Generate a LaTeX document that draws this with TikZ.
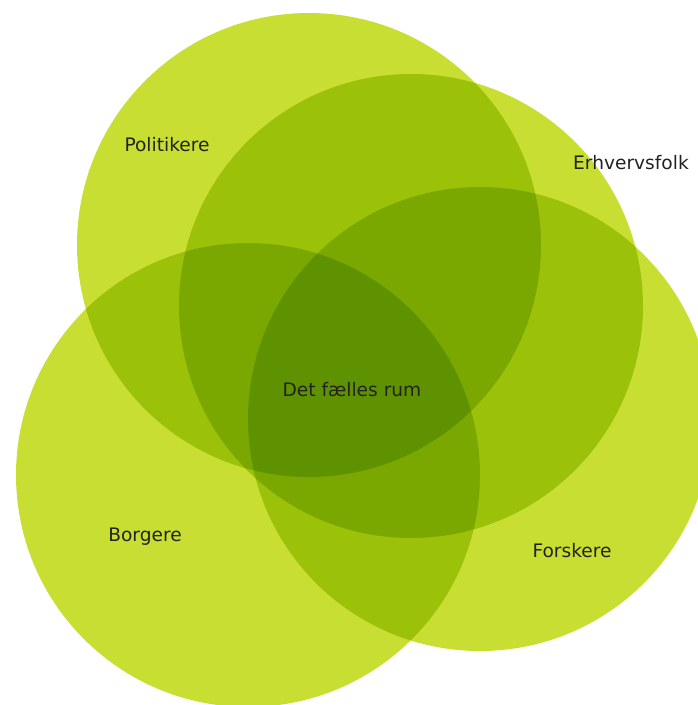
\documentclass[tikz,border=0pt]{standalone}
\usepackage{fontspec}
\setmainfont{DejaVu Sans}
\usetikzlibrary{positioning}

\definecolor{lime}{RGB}{200,222,50}
\definecolor{labeltext}{RGB}{34,34,34}

\tikzset{
  gruppe/.style={fill=lime,draw=none},
  navn/.style={text=labeltext,font=\fontsize{18.6}{21}\selectfont,inner sep=0pt}
}

\begin{document}
\begin{tikzpicture}[x=1pt,y=-1pt]
      \useasboundingbox (0,0) rectangle (697,705);
      \clip (0,0) rectangle (697,705);
      \begin{scope}[blend group=multiply]
        \fill[gruppe] (309,245) circle (232pt);
        \fill[gruppe] (411,306) circle (232pt);
        \fill[gruppe] (480,419) circle (232pt);
        \fill[gruppe] (248,475) circle (232pt);
      \end{scope}
      \node[navn] (politikere) at (167,145) {Politikere};
      \node[navn] (erhverv) at (631,163) {Erhvervsfolk};
      \node[navn] (faelles) at (352,390) {Det fælles rum};
      \node[navn] (borgere) at (145,537) {Borgere};
      \node[navn] (forskere) at (572,551) {Forskere};
    \end{tikzpicture}
\end{document}
